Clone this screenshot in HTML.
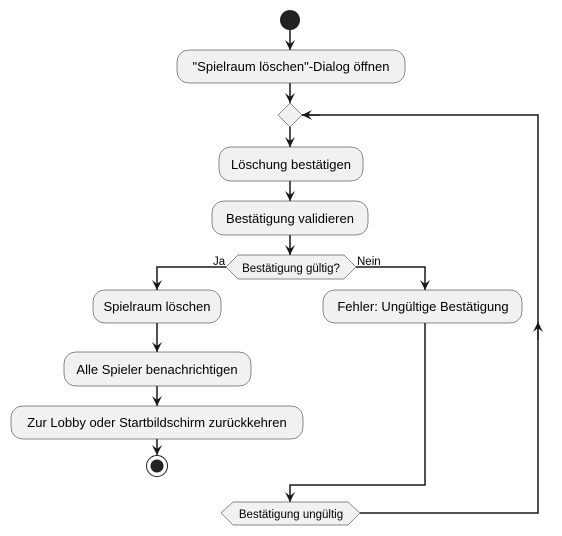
<!DOCTYPE html>
<html><head><meta charset="utf-8"><style>
html,body{margin:0;padding:0;background:#fff;}
svg{display:block;}
text{font-family:"Liberation Sans","DejaVu Sans",sans-serif;font-size:13px;fill:#000;}
.b{fill:#F1F1F1;stroke:#181818;stroke-width:0.5;}
.l{stroke:#181818;stroke-width:1.5;fill:none;}
.a{fill:#181818;}
</style></head><body>
<svg width="562" height="536" viewBox="0 0 562 536" xmlns="http://www.w3.org/2000/svg">
<defs>
<marker id="ah" viewBox="0 0 10 10" refX="10" refY="5" markerWidth="10" markerHeight="10" markerUnits="userSpaceOnUse" orient="auto">
<path d="M0,0 L10,5 L0,10 L4,5 Z" fill="#181818"/>
</marker>
</defs>
<!-- start -->
<circle cx="290" cy="20" r="10" fill="#222"/>
<line class="l" x1="290" y1="30" x2="290" y2="50" marker-end="url(#ah)"/>
<rect class="b" x="177" y="50" width="228" height="33" rx="12"/>
<text x="291" y="71" text-anchor="middle">"Spielraum löschen"-Dialog öffnen</text>
<line class="l" x1="290" y1="83" x2="290" y2="103" marker-end="url(#ah)"/>
<polygon class="b" points="290,103 302,115 290,127 278,115"/>
<line class="l" x1="290" y1="127" x2="290" y2="147" marker-end="url(#ah)"/>
<rect class="b" x="219" y="147" width="144" height="34" rx="12"/>
<text x="291" y="169" text-anchor="middle">Löschung bestätigen</text>
<line class="l" x1="290" y1="181" x2="290" y2="201" marker-end="url(#ah)"/>
<rect class="b" x="212" y="201" width="156" height="34" rx="12"/>
<text x="290" y="223" text-anchor="middle">Bestätigung validieren</text>
<line class="l" x1="290" y1="235" x2="290" y2="255" marker-end="url(#ah)"/>
<polygon class="b" points="238,255 344,255 356,267 344,279 238,279 226,267"/>
<text x="291" y="272" text-anchor="middle" style="font-size:11.5px">Bestätigung gültig?</text>
<text x="213" y="265" style="font-size:11.5px">Ja</text>
<text x="357" y="265" style="font-size:11.5px">Nein</text>
<!-- left branch -->
<polyline class="l" points="226,267 157,267 157,290" marker-end="url(#ah)"/>
<rect class="b" x="93" y="290" width="128" height="33" rx="12"/>
<text x="157" y="311" text-anchor="middle">Spielraum löschen</text>
<line class="l" x1="157" y1="323" x2="157" y2="352" marker-end="url(#ah)"/>
<rect class="b" x="64" y="352" width="187" height="34" rx="12"/>
<text x="157" y="374" text-anchor="middle">Alle Spieler benachrichtigen</text>
<line class="l" x1="157" y1="386" x2="157" y2="406" marker-end="url(#ah)"/>
<rect class="b" x="11" y="406" width="292" height="33" rx="12"/>
<text x="157" y="427" text-anchor="middle">Zur Lobby oder Startbildschirm zurückkehren</text>
<line class="l" x1="157" y1="439" x2="157" y2="455" marker-end="url(#ah)"/>
<circle cx="157" cy="466" r="10.5" fill="none" stroke="#222" stroke-width="1"/>
<circle cx="157" cy="466" r="6.5" fill="#222"/>
<!-- right branch -->
<polyline class="l" points="356,267 425,267 425,290" marker-end="url(#ah)"/>
<rect class="b" x="323" y="290" width="199" height="33" rx="12"/>
<text x="423" y="311" text-anchor="middle">Fehler: Ungültige Bestätigung</text>
<polyline class="l" points="425,323 425,485 290,485 290,502" marker-end="url(#ah)"/>
<polygon class="b" points="233,502 348,502 360,513 348,525 233,525 221,513"/>
<text x="291" y="518" text-anchor="middle" style="font-size:11.5px">Bestätigung ungültig</text>
<!-- loop back -->
<polyline class="l" points="360,513 538,513 538,115 302,115"/>
<line class="l" x1="538" y1="340" x2="538" y2="322" marker-end="url(#ah)"/>
<line class="l" x1="320" y1="115" x2="302" y2="115" marker-end="url(#ah)"/>
</svg>
</body></html>
